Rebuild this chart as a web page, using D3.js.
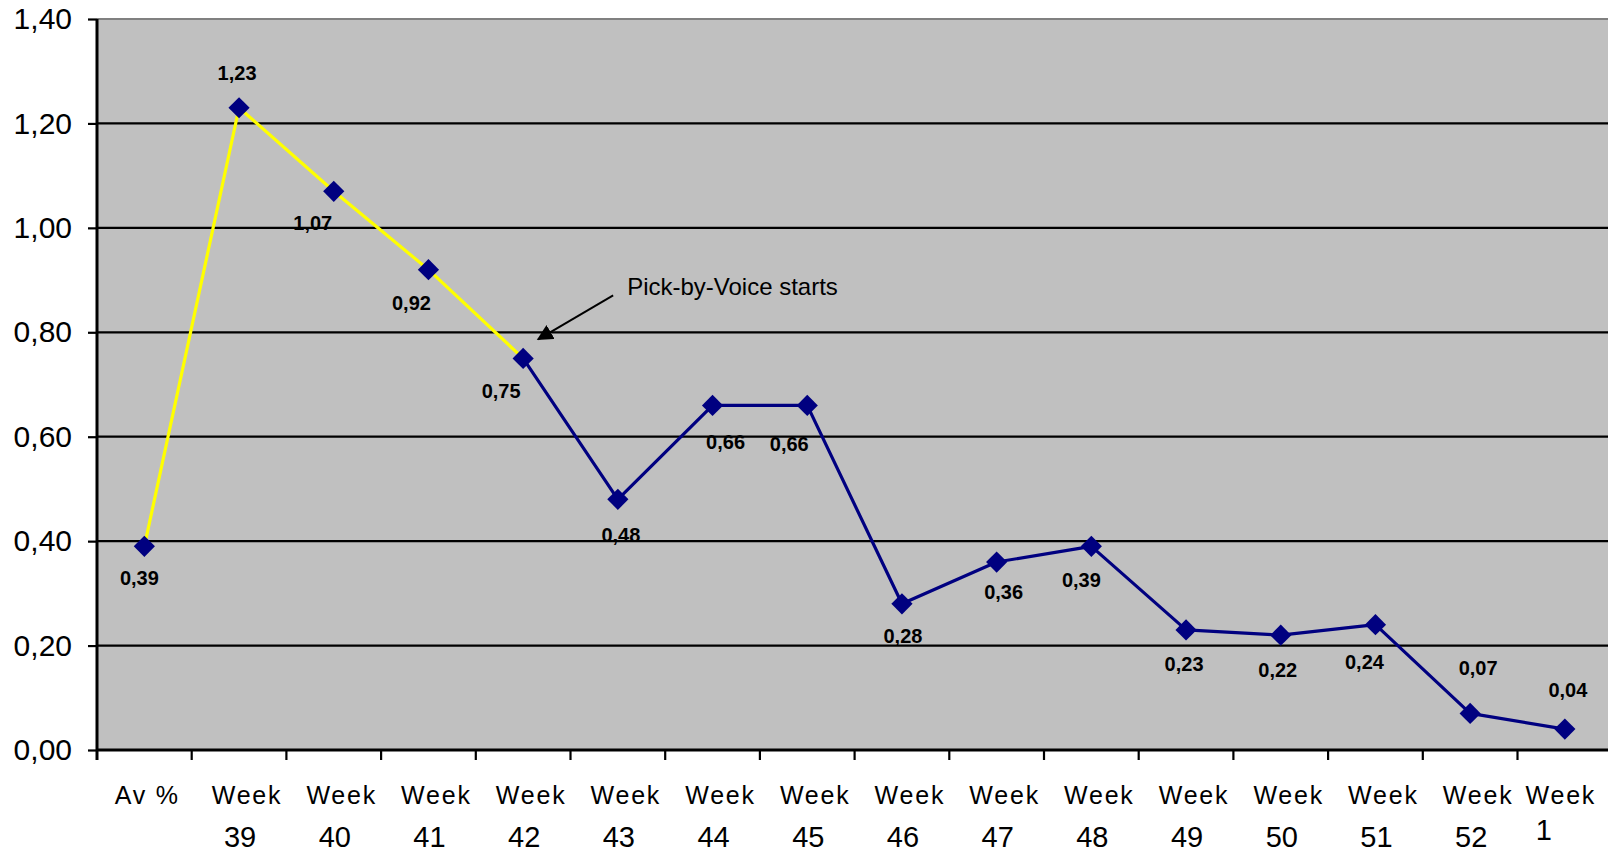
<!DOCTYPE html>
<html>
<head>
<meta charset="utf-8">
<script src="https://cdn.jsdelivr.net/npm/d3@7/dist/d3.min.js"></script>
<style>
  body { margin: 0; background: #fff; }
  svg { display: block; font-family: "Liberation Sans", Arial, sans-serif; }
</style>
</head>
<body>
<svg width="1608" height="849"></svg>
<script>
// categories and values
var categories = ["Av %", "Week 39", "Week 40", "Week 41", "Week 42", "Week 43", "Week 44", "Week 45",
                  "Week 46", "Week 47", "Week 48", "Week 49", "Week 50", "Week 51", "Week 52", "Week 1"];
var values = [0.39, 1.23, 1.07, 0.92, 0.75, 0.48, 0.66, 0.66, 0.28, 0.36, 0.39, 0.23, 0.22, 0.24, 0.07, 0.04];
var yTicks = [0, 0.2, 0.4, 0.6, 0.8, 1.0, 1.2, 1.4];
var yellowUntil = "Week 42";   // the yellow stretch ends here, navy after
var noteText = "Pick-by-Voice starts";
var noteAt = "Week 42";

// where each value label sits relative to its marker (dx, dy of baseline)
var labelShift = [[-5, 39], [-2, -28], [-21, 39], [-17, 40], [-22, 40], [3, 43], [13, 44], [-18, 46],
                  [1, 39], [7, 37], [-10, 41], [-2, 41], [-3, 42], [-11, 44], [8, -38], [3, -32]];

var svg = d3.select("svg"),
    plotLeft = 97, plotTop = 19, plotBottom = 750, band = 94.7;

var x = d3.scaleBand().domain(categories).range([plotLeft, plotLeft + band * categories.length]);
var y = d3.scaleLinear().domain([0, 1.4]).range([plotBottom, plotTop]);
var fmt = function(v) { return d3.format(".2f")(v).replace(".", ","); };

// plot area
svg.append("rect")
    .attr("x", plotLeft).attr("y", plotTop)
    .attr("width", x.range()[1] - plotLeft).attr("height", plotBottom - plotTop)
    .attr("fill", "#c0c0c0");

// gridlines
svg.append("g").selectAll("line")
    .data(yTicks.filter(function(d) { return d > 0; }))
    .enter().append("line")
    .attr("x1", plotLeft).attr("x2", x.range()[1])
    .attr("y1", function(d) { return y(d); }).attr("y2", function(d) { return y(d); })
    .attr("stroke", function(d) { return d === 1.4 ? "#808080" : "#000"; })
    .attr("stroke-width", 2.2);

// y axis
var yAxis = svg.append("g")
    .attr("transform", "translate(" + plotLeft + ",0)")
    .call(d3.axisLeft(y).tickValues(yTicks).tickSize(9).tickPadding(16).tickFormat(fmt));
yAxis.select(".domain").attr("stroke-width", 3).attr("d", "M0," + plotTop + "V" + (plotBottom + 10));
yAxis.selectAll(".tick line").attr("stroke-width", 2.2);
yAxis.selectAll("text").attr("font-size", 30).attr("fill", "#000")
    .attr("font-family", "Liberation Sans, Arial, sans-serif");

// x axis with ticks between categories
var xAxis = svg.append("g").attr("transform", "translate(0," + plotBottom + ")");
xAxis.append("line")
    .attr("x1", plotLeft).attr("x2", x.range()[1])
    .attr("stroke", "#000").attr("stroke-width", 3);
xAxis.selectAll(".xtick")
    .data(categories.slice(1))
    .enter().append("line")
    .attr("x1", function(d) { return x(d); }).attr("x2", function(d) { return x(d); })
    .attr("y1", 0).attr("y2", 10)
    .attr("stroke", "#000").attr("stroke-width", 2.2);

var last = categories[categories.length - 1];
var xl = xAxis.selectAll(".xlab")
    .data(categories)
    .enter().append("text")
    .attr("text-anchor", "middle")
    .attr("transform", function(d) { return "translate(" + (x(d) + x.bandwidth() / 2) + ",0)"; });
xl.append("tspan")
    .attr("x", function(d) { return d === last ? -4 : (d.indexOf("Week") === 0 ? 8 : 3); })
    .attr("y", 54)
    .attr("font-size", 25).attr("letter-spacing", 1.8)
    .text(function(d) { return d.indexOf("Week") === 0 ? "Week" : d; });
xl.append("tspan")
    .attr("x", function(d) { return d === last ? -21 : 1; })
    .attr("y", function(d) { return d === last ? 90 : 97; })
    .attr("font-size", 29)
    .text(function(d) { return d.indexOf("Week") === 0 ? d.split(" ")[1] : ""; });

// series
var pts = categories.map(function(c, i) { return { cat: c, v: values[i], i: i }; });
var cut = categories.indexOf(yellowUntil);
var line = d3.line()
    .x(function(d) { return x(d.cat) + x.bandwidth() / 2; })
    .y(function(d) { return y(d.v); });

svg.append("path").datum(pts.slice(cut))
    .attr("d", line).attr("fill", "none")
    .attr("stroke", "#000080").attr("stroke-width", 3.2).attr("stroke-linejoin", "round");
svg.append("path").datum(pts.slice(0, cut + 1))
    .attr("d", line).attr("fill", "none")
    .attr("stroke", "#ffff00").attr("stroke-width", 3.2).attr("stroke-linejoin", "round");

svg.append("g").selectAll("path")
    .data(pts)
    .enter().append("path")
    .attr("d", d3.symbol().type(d3.symbolSquare).size(225))
    .attr("transform", function(d) {
        return "translate(" + line.x()(d) + "," + line.y()(d) + ") rotate(45)";
    })
    .attr("fill", "#000080");

svg.append("g").selectAll("text")
    .data(pts)
    .enter().append("text")
    .attr("x", function(d) { return line.x()(d) + labelShift[d.i][0]; })
    .attr("y", function(d) { return line.y()(d) + labelShift[d.i][1]; })
    .attr("text-anchor", "middle")
    .attr("font-size", 20).attr("font-weight", "bold")
    .text(function(d) { return fmt(d.v); });

// annotation arrow
svg.append("defs").append("marker")
    .attr("id", "head").attr("viewBox", "0 0 10 10")
    .attr("refX", 9).attr("refY", 5)
    .attr("markerWidth", 8).attr("markerHeight", 8)
    .attr("markerUnits", "strokeWidth")
    .attr("orient", "auto")
    .append("path").attr("d", "M0,0L10,5L0,10Z").attr("fill", "#000");

var nx = x(noteAt) + x.bandwidth() / 2;
svg.append("line")
    .attr("x1", nx + 90).attr("y1", y(0.80) - 37)
    .attr("x2", nx + 15).attr("y2", y(0.80) + 7)
    .attr("stroke", "#000").attr("stroke-width", 2)
    .attr("marker-end", "url(#head)");
svg.append("text")
    .attr("x", nx + 104).attr("y", y(0.80) - 37)
    .attr("font-size", 24)
    .text(noteText);
</script>
</body>
</html>
